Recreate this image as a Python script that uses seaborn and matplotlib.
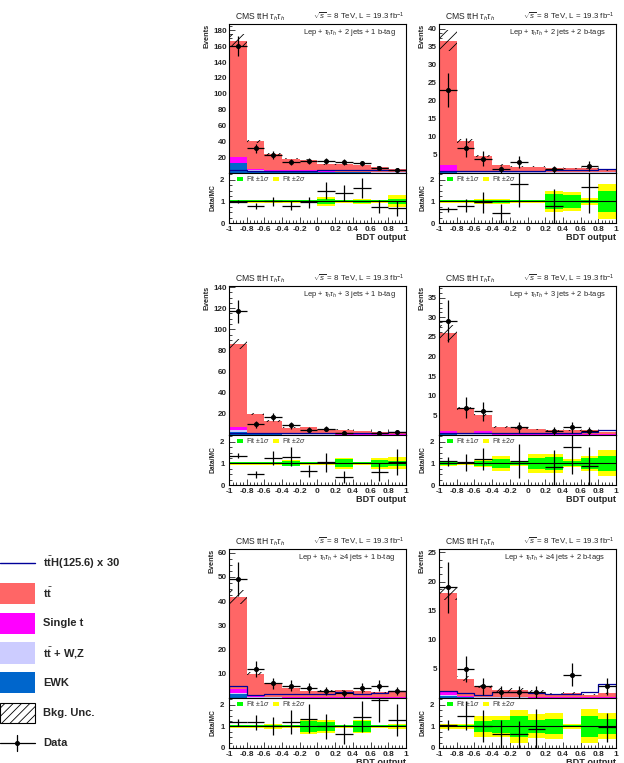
import numpy as np
import matplotlib
matplotlib.use("Agg")
import matplotlib.pyplot as plt
import seaborn as sns
from matplotlib.patches import Rectangle
from matplotlib.ticker import MultipleLocator, AutoMinorLocator, FuncFormatter

# Binning of the BDT output
bin_edges = [-1.0, -0.8, -0.6, -0.4, -0.2, 0.0, 0.2, 0.4, 0.6, 0.8, 1.0]

categories = ["2 jets + 1 b-tag", "2 jets + 2 b-tags",
              "3 jets + 1 b-tag", "3 jets + 2 b-tags",
              "\u22654 jets + 1 b-tag", "\u22654 jets + 2 b-tags"]

# background components per category (events per bin)
ttbar = [
    [147, 35, 19.6, 14.7, 13.4, 9.0, 9.2, 8.4, 6.7, 4.5],
    [34.5, 8.3, 4.3, 2.0, 1.5, 1.5, 1.1, 1.0, 1.0, 0.5],
    [78, 18.2, 12, 6.1, 6.6, 4.9, 4.3, 3.4, 2.7, 2.3],
    [25, 6.5, 4.0, 1.9, 1.6, 1.35, 1.1, 1.0, 1.0, 0.65],
    [38, 9.0, 5.6, 3.8, 2.7, 2.7, 2.8, 2.5, 2.0, 2.0],
    [16.8, 2.9, 1.75, 1.2, 1.2, 0.95, 0.6, 0.7, 0.5, 0.7],
]
single_t = [
    [7, 1.5, 1.5, 1.5, 0.8, 0.7, 0.7, 0.5, 0.5, 0.3],
    [1.7, 0.4, 0.2, 0.1, 0.1, 0.1, 0.1, 0.1, 0.1, 0.05],
    [3.5, 1.0, 0.7, 0.4, 0.4, 0.3, 0.3, 0.2, 0.2, 0.2],
    [0.5, 0.15, 0.8, 0.1, 0.1, 0.05, 0.05, 0.05, 0.05, 0.05],
    [1.5, 0.5, 0.3, 0.2, 0.15, 0.15, 0.15, 0.15, 0.15, 0.15],
    [0.6, 0.2, 0.15, 0.1, 0.1, 0.08, 0.08, 0.08, 0.05, 0.08],
]
ttv = [
    [1.0, 0.5, 0.4, 0.3, 0.3, 0.3, 0.3, 0.3, 0.3, 0.3],
    [0.2, 0.1, 0.1, 0.1, 0.1, 0.1, 0.1, 0.1, 0.1, 0.1],
    [1.5, 0.3, 0.3, 0.2, 0.2, 0.2, 0.2, 0.2, 0.2, 0.2],
    [0.3, 0.1, 0.1, 0.05, 0.05, 0.05, 0.05, 0.05, 0.05, 0.05],
    [0.6, 0.3, 0.2, 0.1, 0.1, 0.1, 0.1, 0.1, 0.1, 0.1],
    [0.3, 0.1, 0.05, 0.05, 0.05, 0.04, 0.04, 0.04, 0.03, 0.04],
]
ewk = [
    [12, 3.0, 2.5, 1.5, 2.5, 1.0, 0.8, 0.8, 0.5, 0.4],
    [0.3, 0.1, 0.1, 0.05, 0.05, 0.05, 0.05, 0.05, 0.05, 0.05],
    [3.0, 0.5, 0.5, 0.3, 0.3, 0.3, 0.2, 0.2, 0.2, 0.2],
    [0.2, 0.05, 0.1, 0.05, 0.05, 0.05, 0.05, 0.05, 0.05, 0.05],
    [1.5, 0.2, 0.1, 0.1, 0.05, 0.05, 0.05, 0.05, 0.05, 0.05],
    [0.3, 0.1, 0.05, 0.05, 0.05, 0.03, 0.03, 0.03, 0.02, 0.03],
]
# ttH(125.6) x 30
tth_x30 = [
    [3.5, 3.0, 3.0, 3.0, 3.0, 3.5, 3.5, 3.5, 3.5, 4.0],
    [0.6, 0.5, 0.5, 0.5, 0.6, 0.6, 0.7, 0.8, 0.9, 1.2],
    [2.0, 1.5, 1.5, 1.5, 1.5, 1.5, 1.5, 1.5, 2.0, 3.0],
    [0.6, 0.5, 0.5, 0.5, 0.5, 0.5, 0.5, 0.6, 0.7, 1.3],
    [4.8, 1.3, 1.5, 1.8, 1.5, 1.5, 2.3, 1.6, 2.0, 3.0],
    [1.25, 0.85, 0.5, 1.0, 1.0, 0.85, 0.7, 0.7, 1.0, 2.4],
]
bkg_unc = [
    [8, 2.0, 1.2, 0.8, 0.7, 0.5, 0.5, 0.5, 0.4, 0.3],
    [3, 0.6, 0.3, 0.2, 0.15, 0.15, 0.15, 0.12, 0.12, 0.1],
    [5, 1.2, 0.8, 0.4, 0.4, 0.3, 0.3, 0.2, 0.2, 0.2],
    [2, 0.4, 0.3, 0.2, 0.15, 0.15, 0.12, 0.1, 0.1, 0.08],
    [3, 0.6, 0.4, 0.3, 0.2, 0.2, 0.2, 0.2, 0.15, 0.15],
    [1.2, 0.4, 0.3, 0.4, 0.4, 0.25, 0.1, 0.1, 0.1, 0.1],
]
data = [
    [160, 31, 23, 14, 15, 15, 14, 12, 6, 4],
    [23, 7, 4, 1, 3, 0, 1, 0, 2, 0],
    [117, 10, 17, 9, 5, 6, 2, 0, 2, 3],
    [29, 7, 6, 0, 2, 0, 1, 2, 1, 0],
    [49, 12, 6, 5, 4, 3, 2, 4, 5, 3],
    [19, 5, 2, 1, 1, 1, 0, 4, 0, 2],
]
ratio = [
    [0.98, 0.8, 1.0, 0.8, 0.95, 1.5, 1.4, 1.6, 0.75, 0.68],
    [0.63, 0.8, 0.95, 0.45, 1.8, np.nan, 0.78, np.nan, 1.65, np.nan],
    [1.36, 0.5, 1.25, 1.3, 0.65, 1.05, 0.37, np.nan, 0.6, 1.05],
    [1.1, 1.05, 1.2, np.nan, 1.1, np.nan, 0.82, 1.75, 0.87, np.nan],
    [1.18, 1.2, 1.02, 1.2, 1.35, 1.0, 0.65, 1.45, 2.2, 1.3],
    [1.05, 1.5, 1.02, 0.65, 0.63, 0.9, np.nan, 4.7, np.nan, 0.95],
]
# fit uncertainty bands (relative half widths)
fit_1sigma = [
    [0.04, 0.04, 0.05, 0.04, 0.05, 0.1, 0.04, 0.08, 0.04, 0.12],
    [0.04, 0.05, 0.06, 0.06, 0.05, 0.05, 0.35, 0.3, 0.08, 0.5],
    [0.04, 0.04, 0.05, 0.1, 0.04, 0.04, 0.18, 0.04, 0.15, 0.12],
    [0.07, 0.05, 0.1, 0.2, 0.08, 0.25, 0.3, 0.12, 0.25, 0.35],
    [0.04, 0.04, 0.05, 0.04, 0.25, 0.2, 0.04, 0.25, 0.04, 0.05],
    [0.05, 0.05, 0.25, 0.3, 0.47, 0.3, 0.35, 0.05, 0.5, 0.35],
]
fit_2sigma = [
    [0.07, 0.07, 0.08, 0.07, 0.08, 0.2, 0.07, 0.12, 0.07, 0.28],
    [0.07, 0.08, 0.1, 0.1, 0.08, 0.08, 0.5, 0.45, 0.15, 0.8],
    [0.07, 0.07, 0.08, 0.14, 0.07, 0.07, 0.24, 0.07, 0.25, 0.28],
    [0.1, 0.08, 0.15, 0.35, 0.12, 0.45, 0.45, 0.18, 0.35, 0.6],
    [0.08, 0.08, 0.1, 0.08, 0.35, 0.3, 0.08, 0.3, 0.08, 0.1],
    [0.1, 0.1, 0.48, 0.5, 0.75, 0.55, 0.6, 0.1, 0.78, 0.6],
]
y_max = [188, 41.3, 141, 38, 61.5, 25.6]
y_step = [20, 5, 20, 5, 10, 5]

C_TT = "#ff6666"
C_ST = "#ff00ff"
C_TTV = "#ccccff"
C_EWK = "#0066cc"
C_TTH = "#000099"

sns.set_style("ticks")
plt.rcParams["font.family"] = ["Liberation Sans", "DejaVu Sans"]
plt.rcParams["mathtext.fontset"] = "custom"
plt.rcParams["mathtext.rm"] = "Liberation Sans"
plt.rcParams["mathtext.it"] = "Liberation Sans:italic"
plt.rcParams["mathtext.bf"] = "Liberation Sans:bold"
plt.rcParams["axes.unicode_minus"] = False
plt.rcParams["hatch.linewidth"] = 0.6

W, H = 624, 763
fig = plt.figure(figsize=(W / 100, H / 100), dpi=100)

col_left = [229, 439]
rows = [(24, 173, 223), (286, 435, 485), (549, 698, 748)]
ax_w = 177

edges = np.array(bin_edges)
centers = 0.5 * (edges[:-1] + edges[1:])
half = 0.5 * (edges[1] - edges[0])
n_bins = len(centers)


def style_axis(ax, xfs, yfs, xpad=1.5, ypad=1.5):
    ax.tick_params(which="both", direction="in", top=False, right=False, width=0.6)
    ax.tick_params(axis="x", labelsize=xfs, pad=xpad)
    ax.tick_params(axis="y", labelsize=yfs, pad=ypad)
    ax.tick_params(which="major", length=4)
    ax.tick_params(which="minor", length=2)
    for sp in ax.spines.values():
        sp.set_linewidth(0.8)
        sp.set_color("black")
    for lab in ax.get_xticklabels() + ax.get_yticklabels():
        lab.set_fontweight("bold")


def draw_panel(i):
    r, c = divmod(i, 2)
    top, split, bot = rows[r]
    left = col_left[c]
    ax = fig.add_axes([left / W, 1 - split / H, ax_w / W, (split - top) / H])
    rax = fig.add_axes([left / W, 1 - bot / H, ax_w / W, (bot - split) / H])

    tt = np.array(ttbar[i])
    st = np.array(single_t[i])
    tv = np.array(ttv[i])
    ew = np.array(ewk[i])
    layers = [(ew + tv + st + tt, C_TT), (ew + tv + st, C_ST),
              (ew + tv, C_TTV), (ew, C_EWK)]
    for vals, col in layers:
        sns.histplot(x=centers, weights=vals, bins=n_bins,
                     binrange=(bin_edges[0], bin_edges[-1]), element="bars",
                     fill=True, color=col, edgecolor=col, alpha=1,
                     linewidth=0, ax=ax, legend=False)
    total = layers[0][0]
    unc = np.array(bkg_unc[i])
    ax.bar(centers, 2 * unc, bottom=total - unc, width=2 * half, fill=False,
           hatch="///", edgecolor="black", linewidth=0)
    ax.stairs(tth_x30[i], edges, color=C_TTH, linewidth=0.9)

    d = np.array(data[i], dtype=float)
    m = d > 0
    ax.errorbar(centers[m], d[m], xerr=half, yerr=np.sqrt(d[m]), fmt="o",
                ms=2.6, color="black", elinewidth=0.9, capsize=0)

    ax.set_xlim(-1, 1)
    ax.set_ylim(0, y_max[i])
    ax.yaxis.set_major_locator(MultipleLocator(y_step[i]))
    ax.yaxis.set_minor_locator(AutoMinorLocator(4))
    ax.yaxis.set_major_formatter(FuncFormatter(lambda v, p: "" if v == 0 else "%g" % v))
    ax.xaxis.set_major_locator(MultipleLocator(0.2))
    ax.xaxis.set_minor_locator(AutoMinorLocator(5))
    ax.set_xticklabels([])
    ax.set_xlabel("")
    ax.set_ylabel("Events", loc="top", fontsize=5.3, fontweight="bold", labelpad=2)
    style_axis(ax, 6.2, 5.8)

    ax.text(0.035, 1.01, r"CMS ttH $\tau_{h}\tau_{h}$", transform=ax.transAxes,
            fontsize=6.2, ha="left", va="bottom")
    ax.text(0.99, 1.01, r"$\sqrt{s}$ = 8 TeV, L = 19.3 fb$^{-1}$",
            transform=ax.transAxes, fontsize=5.7, ha="right", va="bottom")
    ax.text(0.94, 0.945, r"Lep + $\tau_{h}\tau_{h}$ + " + categories[i],
            transform=ax.transAxes, fontsize=5.4, ha="right", va="center")

    # ratio panel
    b1 = np.array(fit_1sigma[i])
    b2 = np.array(fit_2sigma[i])
    rax.bar(centers, 2 * b2, bottom=1 - b2, width=2 * half, color="#ffff00", linewidth=0)
    rax.bar(centers, 2 * b1, bottom=1 - b1, width=2 * half, color="#00ff00", linewidth=0)
    rax.axhline(1, color="black", linewidth=0.8)
    rt = np.array(ratio[i])
    rm = ~np.isnan(rt)
    rax.errorbar(centers[rm], rt[rm], xerr=half, yerr=rt[rm] / np.sqrt(d[rm]),
                 fmt="none", color="black", elinewidth=0.9, capsize=0)
    rax.set_xlim(-1, 1)
    rax.set_ylim(0, 2.31)
    rax.set_yticks([0, 1, 2])
    rax.yaxis.set_minor_locator(AutoMinorLocator(4))
    rax.xaxis.set_major_locator(MultipleLocator(0.2))
    rax.xaxis.set_minor_locator(AutoMinorLocator(5))
    rax.xaxis.set_major_formatter(FuncFormatter(lambda v, p: "%g" % round(v, 2)))
    rax.set_ylabel("Data/MC", fontsize=4.8, fontweight="bold", labelpad=3)
    rax.set_xlabel("BDT output", loc="right", fontsize=6.6, fontweight="bold", labelpad=0.2)
    style_axis(rax, 6.0, 5.6, xpad=2.2, ypad=3.2)

    for xx, col, lab in [(0.045, "#00ff00", r"Fit $\pm$1$\sigma$"),
                         (0.25, "#ffff00", r"Fit $\pm$2$\sigma$")]:
        rax.add_patch(Rectangle((xx, 0.84), 0.035, 0.09, transform=rax.transAxes,
                                color=col, linewidth=0))
        rax.text(xx + 0.05, 0.885, lab, transform=rax.transAxes, fontsize=5,
                 color="#333333", ha="left", va="center")


for i in range(len(categories)):
    draw_panel(i)

# legend on the lower left
lax = fig.add_axes([0, 0, 200 / W, (H - 510) / H])
lax.set_xlim(0, 200)
lax.set_ylim(763, 510)
lax.axis("off")
lax.plot([0, 35], [563, 563], color=C_TTH, linewidth=1)
boxes = [(583, 604, C_TT), (613, 634, C_ST), (642, 664, C_TTV), (672, 693, C_EWK)]
for y0, y1, col in boxes:
    lax.add_patch(Rectangle((0, y0), 35, y1 - y0, color=col, linewidth=0))
lax.add_patch(Rectangle((0, 703), 35, 20, fill=False, hatch="////",
                        edgecolor="black", linewidth=0.8))
lax.plot([0, 35], [743, 743], color="black", linewidth=0.9)
lax.plot([17, 17], [735, 751], color="black", linewidth=0.9)
lax.plot([17], [743], "o", color="black", ms=2.6)
labels = [(563, r"t$\bar{\mathbf{t}}$H(125.6) x 30"), (593, r"t$\bar{\mathbf{t}}$"),
          (623, "Single t"), (653, r"t$\bar{\mathbf{t}}$ + W,Z"), (683, "EWK"),
          (713, "Bkg. Unc."), (743, "Data")]
for yy, txt in labels:
    lax.text(43, yy, txt, fontsize=8, fontweight="bold", ha="left", va="center")

fig.savefig("out.png", dpi=100)
